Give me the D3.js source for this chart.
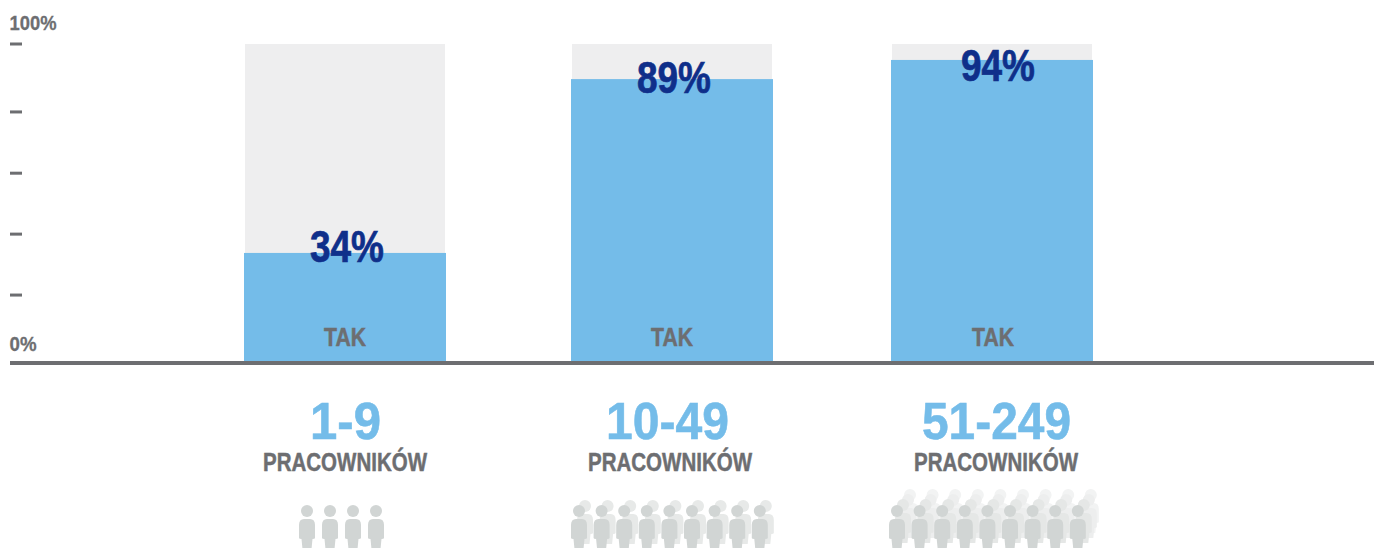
<!DOCTYPE html>
<html><head><meta charset="utf-8">
<script src="https://cdn.jsdelivr.net/npm/d3@7/dist/d3.min.js"></script>
<style>html,body{margin:0;padding:0;background:#fff}svg{display:block}text{font-family:"Liberation Sans",Arial,sans-serif;font-weight:700}</style>
</head><body><svg id="c" width="1374" height="548"></svg>
<script>
const categories = ["1-9","10-49","51-249"];
const barValues = [34.5,89,95];
const valueLabels = ["34%","89%","94%"];
const yesLabel = "TAK";
const unitLabel = "PRACOWNIKÓW";
const tickValues = [100,78.7,59.5,40.4,21.3];
const axisLabels = ["100%","0%"];
const peopleCount = [4,9,9];
const peopleLayers = [1,2,4];

const svg = d3.select("#c");
const W = 1374, H = 548;
const y = d3.scaleLinear().domain([0,100]).range([363,44]);
const x = d3.scaleOrdinal().domain(categories).range([345,672,992]);
const barW = 202, bgW = 200;
const grey="#6d6e71", blue="#74bce9", navy="#0f2f8a";

function fitText(sel, w){ sel.attr("textLength",w).attr("lengthAdjust","spacingAndGlyphs"); }
function heavy(sel, col, sw){ sel.attr("stroke",col).attr("stroke-width",sw); }

// backgrounds and bars
svg.selectAll("rect.bg").data(categories).join("rect").attr("class","bg")
  .attr("x",d=>x(d)-bgW/2).attr("width",bgW).attr("y",y(100)).attr("height",y(0)-y(100)).attr("fill","#eeeeef");
svg.selectAll("rect.bar").data(categories).join("rect").attr("class","bar")
  .attr("x",d=>x(d)-barW/2).attr("width",barW)
  .attr("y",(d,i)=>y(barValues[i])).attr("height",(d,i)=>y(0)-y(barValues[i])).attr("fill",blue);

// axis
svg.append("rect").attr("x",10).attr("y",361).attr("width",W-10).attr("height",4).attr("fill",grey);
svg.selectAll("rect.tick").data(tickValues).join("rect").attr("class","tick")
  .attr("x",10).attr("width",12).attr("y",d=>y(d)-1.5).attr("height",3).attr("fill",grey);
const axT = svg.append("g").attr("fill",grey).attr("font-size",20);
axT.append("text").attr("x",9.5).attr("y",30).text(axisLabels[0]).call(fitText,47).call(heavy,grey,0.3);
axT.append("text").attr("x",9.5).attr("y",351).text(axisLabels[1]).call(fitText,27).call(heavy,grey,0.3);

// value labels
const valX=[347,674,998], valY=[262,93,81];
svg.selectAll("text.val").data(categories).join("text").attr("class","val")
  .attr("x",(d,i)=>valX[i]).attr("y",(d,i)=>valY[i])
  .attr("text-anchor","middle").attr("font-size",44).attr("fill",navy)
  .text((d,i)=>valueLabels[i]).call(fitText,74).call(heavy,navy,0.7);
const yesX=[345,672,993];
svg.selectAll("text.yes").data(categories).join("text").attr("class","yes")
  .attr("x",(d,i)=>yesX[i]).attr("y",346).attr("text-anchor","middle").attr("font-size",26).attr("fill",grey)
  .text(yesLabel).call(fitText,42).call(heavy,grey,0.5);

// categories
const catW=[71,123,149], catX=[345.5,667.5,996.5];
svg.selectAll("text.cat").data(categories).join("text").attr("class","cat")
  .attr("x",(d,i)=>catX[i]).attr("y",439).attr("text-anchor","middle").attr("font-size",52).attr("fill",blue)
  .text(d=>d).call(heavy,blue,0.6).each(function(d,i){d3.select(this).call(fitText,catW[i]);});
const unitX=[345,670,996];
svg.selectAll("text.unit").data(categories).join("text").attr("class","unit")
  .attr("x",(d,i)=>unitX[i]).attr("y",471).attr("text-anchor","middle").attr("font-size",26).attr("fill",grey)
  .text(unitLabel).call(fitText,164).call(heavy,grey,0.5);

// pictograms
const personPath = "M-8,14 Q-8,8 -3,8 L3,8 Q8,8 8,14 L8,27 Q8,28 5.5,28 L4.5,38 L-4.5,38 L-5.5,28 Q-8,28 -8,27 Z";
const layerDefs = [
 [{dx:0,dy:0,c:"#d1d5d4"}],
 [{dx:6,dy:-5,c:"#e7e9e8"},{dx:0,dy:0,c:"#d1d5d4"}],
 [{dx:13,dy:-16,c:"#f2f3f3"},{dx:11,dy:-11,c:"#edeeee"},{dx:6,dy:-6,c:"#e5e7e6"},{dx:0,dy:0,c:"#d1d5d4"}]
];
const startX=[307,579,897], stepX=[23,22.6,22.6];
categories.forEach((c,i)=>{
  const g = svg.append("g");
  const slots = d3.range(peopleCount[i]);
  layerDefs[i].forEach(l=>{
    const ly = g.append("g").attr("fill",l.c);
    slots.forEach(s=>{
      const p = ly.append("g").attr("transform",`translate(${startX[i]+stepX[i]*s+l.dx},${511+l.dy})`);
      p.append("circle").attr("r",6);
      p.append("path").attr("d",personPath);
    });
  });
});
</script></body></html>
